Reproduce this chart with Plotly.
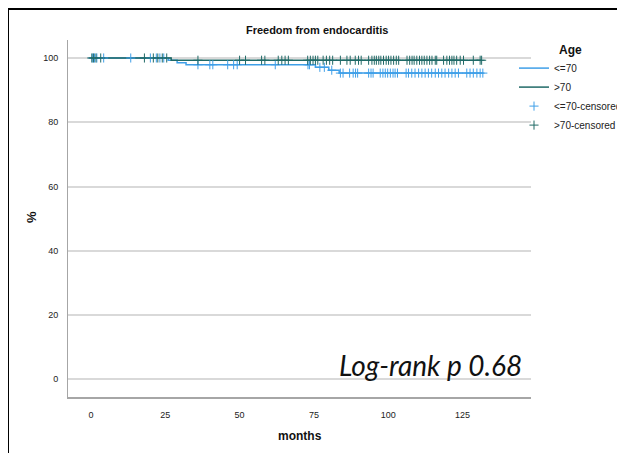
import plotly.graph_objects as go
import numpy as np

# ---- data ----
le70_time = [0, 26, 29, 32, 75.5, 80, 83.5, 132]
le70_surv = [100, 99.3, 98.5, 97.9, 97.1, 96.2, 95.3, 95.3]

gt70_time = [0, 27, 131.5]
gt70_surv = [100, 99.3, 99.3]

le70_censored = [0.6, 1.2, 2.0, 4.3, 13.4, 20.0, 22.0, 23.2, 24.5,
                 36.0, 40.0, 41.0, 46.0, 48.0, 49.2, 62.0, 73.0, 73.5, 77.0, 78.5, 81.0,
                 83.9, 84.8, 87.0, 88.2, 89.0, 89.7, 93.4, 94.2, 94.9,
                 97.3, 98.2, 99.0, 99.8, 100.7, 101.6, 102.3, 103.1,
                 106.0, 106.8, 107.9, 109.0, 110.2, 111.3, 112.4, 113.5, 114.6, 115.8,
                 116.9, 118.0, 119.1, 120.3, 121.4, 122.5, 123.6,
                 126.4, 127.5, 128.6, 129.8, 130.9, 131.8]

gt70_censored = [0.3, 0.9, 1.7, 3.3, 18.0, 21.0, 22.5, 24.0, 25.5,
                 36.0, 50.0, 52.0, 57.4, 58.5, 63.0, 64.2, 65.3, 66.4,
                 72.9, 73.8, 74.7, 75.5, 76.3, 78.1, 79.2, 80.3, 81.3, 83.9,
                 86.1, 87.2, 88.9, 90.0, 90.9, 93.4, 94.5, 95.3, 96.0, 96.8, 97.5,
                 98.4, 99.3, 100.1, 100.9, 101.8, 102.7, 103.5,
                 106.3, 107.2, 108.0, 108.7, 109.6, 110.5, 111.3, 112.1, 113.0,
                 113.9, 114.7, 115.8, 116.3, 118.6, 119.7, 120.6, 121.4, 122.1,
                 123.0, 124.2, 125.3, 128.6, 130.9, 131.4]

x_ticks = [0, 25, 50, 75, 100, 125]
y_ticks = [0, 20, 40, 60, 80, 100]

BLUE = "#3f9fe8"
TEAL = "#206a67"


def km_at(times, surv, t):
    idx = np.searchsorted(np.array(times), t, side="right") - 1
    return surv[max(idx, 0)]


le70_cy = [km_at(le70_time, le70_surv, t) for t in le70_censored]
gt70_cy = [km_at(gt70_time, gt70_surv, t) for t in gt70_censored]

fig = go.Figure()
fig.add_trace(go.Scatter(x=le70_time, y=le70_surv, mode="lines", line=dict(color=BLUE, width=1.5, shape="hv"),
                         name="<=70"))
fig.add_trace(go.Scatter(x=gt70_time, y=gt70_surv, mode="lines", line=dict(color=TEAL, width=1.5, shape="hv"),
                         name=">70"))
fig.add_trace(go.Scatter(x=le70_censored, y=le70_cy, mode="markers",
                         marker=dict(symbol="cross-thin", size=6.5, line=dict(color=BLUE, width=1)),
                         name="<=70-censored"))
fig.add_trace(go.Scatter(x=gt70_censored, y=gt70_cy, mode="markers",
                         marker=dict(symbol="cross-thin", size=6.5, line=dict(color=TEAL, width=1)),
                         name=">70-censored"))

# page has an 8px body margin: positions below are target page pixels
OFF = 8
W, H = 625, 453
PL, PR, PT, PB = 68, 531, 40, 397          # plot area in page pixels
L, T = PL - OFF, PT - OFF
R = W - (PR - OFF)
B = H - (PB - OFF)
pw = PR - PL
ph = PB - PT


def px_x(p):
    return (p - PL) / pw


def px_y(p):
    return (PB - p) / ph


fig.update_layout(
    width=W, height=H,
    margin=dict(l=L, r=R, t=T, b=B, autoexpand=False),
    paper_bgcolor="white", plot_bgcolor="white",
    font=dict(family="Liberation Sans, Arial, sans-serif", color="#222222"),
    title=dict(text="<b>Freedom from endocarditis</b>", x=px_x(297), xanchor="center",
               y=1 - (30 - OFF) / H, yanchor="middle", yref="container",
               font=dict(size=11, color="#111111")),
    showlegend=True,
    legend=dict(x=px_x(514), y=px_y(38), xanchor="left", yanchor="top",
                title=dict(text="<b>Age</b>", side="top center", font=dict(size=12, color="#111111")),
                font=dict(size=10, color="#222222"), bgcolor="rgba(0,0,0,0)",
                tracegroupgap=0, itemwidth=30),
    xaxis=dict(range=[-7.7, 148], tickvals=x_ticks, ticktext=[str(v) for v in x_ticks],
               showgrid=False, zeroline=False, showline=True, linecolor="#a6a6a6", linewidth=2,
               ticks="", ticklabelstandoff=8, tickfont=dict(size=9, color="#222222")),
    yaxis=dict(range=[-5.5, 105.6], tickvals=y_ticks, ticktext=[str(v) for v in y_ticks],
               showgrid=True, gridcolor="#d9d9d9", gridwidth=1.5, zeroline=False,
               showline=True, linecolor="#a6a6a6", linewidth=1,
               ticks="", ticklabelstandoff=7, tickfont=dict(size=9, color="#222222")),
    annotations=[
        dict(text="<b>%</b>", x=px_x(31), y=px_y(217), xref="paper", yref="paper",
             showarrow=False, textangle=-90, font=dict(size=13, color="#111111"),
             xanchor="center", yanchor="middle"),
        dict(text="<b>months</b>", x=px_x(300), y=px_y(436), xref="paper", yref="paper",
             showarrow=False, font=dict(size=12, color="#111111"),
             xanchor="center", yanchor="middle"),
        dict(text="<i>Log-rank p 0.68</i>", x=px_x(524), y=px_y(365), xref="paper", yref="paper",
             showarrow=False, font=dict(size=28, color="#111111", family="Lato, Open Sans, sans-serif"),
             xanchor="right", yanchor="middle"),
    ],
    shapes=[
        dict(type="rect", xref="paper", yref="paper",
             x0=px_x(OFF), x1=px_x(700), y0=px_y(520), y1=px_y(OFF + 1),
             line=dict(color="black", width=2), fillcolor="rgba(0,0,0,0)", layer="above"),
    ],
)

fig.write_html("out.html")
